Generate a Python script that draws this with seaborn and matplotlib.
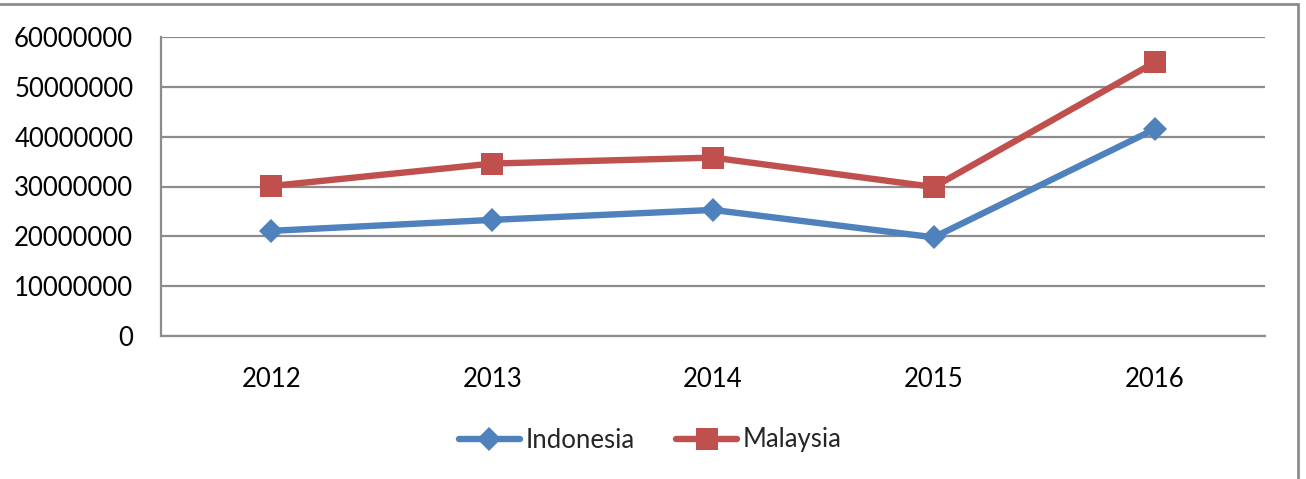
import numpy as np
import pandas as pd
import matplotlib
matplotlib.use("Agg")
import matplotlib.pyplot as plt
import seaborn as sns
from matplotlib.lines import Line2D

years = ["2012", "2013", "2014", "2015", "2016"]
indonesia = [21100000, 23300000, 25300000, 19800000, 41500000]
malaysia = [30100000, 34600000, 35800000, 29900000, 54900000]
y_ticks = [0, 10000000, 20000000, 30000000, 40000000, 50000000, 60000000]

sns.set_style("white")
plt.rcParams["font.family"] = ["Lato", "DejaVu Sans"]

df = pd.DataFrame({
    "year": years * 2,
    "value": indonesia + malaysia,
    "country": ["Indonesia"] * len(years) + ["Malaysia"] * len(years),
})

fig = plt.figure(figsize=(13.06, 4.79), dpi=100)
ax = fig.add_axes([161 / 1306, 1 - 336 / 479, (1265 - 161) / 1306, (336 - 37) / 479])

palette = {"Indonesia": "#4F81BD", "Malaysia": "#C0504D"}
markers = {"Indonesia": "D", "Malaysia": "s"}
sizes = {"Indonesia": 12.5, "Malaysia": 16.5}
for name in ["Indonesia", "Malaysia"]:
    sub = df[df["country"] == name]
    sns.lineplot(data=sub, x="year", y="value", ax=ax, color=palette[name],
                 marker=markers[name], markersize=sizes[name], markeredgewidth=0,
                 linewidth=4.6, label=name, sort=False, zorder=3)

ax.set_xlim(-0.5, len(years) - 0.5)
ax.set_ylim(0, 60000000)
ax.set_yticks(y_ticks)
ax.set_yticklabels([str(v) for v in y_ticks])
ax.set_xlabel("")
ax.set_ylabel("")
ax.grid(axis="y", color="#8c8c8c", linewidth=1.6)
ax.grid(axis="x", visible=False)
ax.set_axisbelow(True)
for s in ["top", "right"]:
    ax.spines[s].set_visible(False)
for s in ["left", "bottom"]:
    ax.spines[s].set_color("#8c8c8c")
    ax.spines[s].set_linewidth(1.6)
ax.tick_params(axis="both", length=0, labelsize=18.5, colors="#000000")
ax.tick_params(axis="y", pad=20)
ax.tick_params(axis="x", pad=22)

leg = ax.legend(loc="center", bbox_to_anchor=(650 / 1306, 1 - 440 / 479),
                bbox_transform=fig.transFigure, ncol=2, frameon=False,
                fontsize=18.5, handlelength=2.4, handletextpad=0.2, columnspacing=1.6)

# outer chart border (top and right visible)
fig.add_artist(Line2D([0, 1298 / 1306], [1 - 4 / 479, 1 - 4 / 479], transform=fig.transFigure,
                      color="#8c8c8c", linewidth=2))
fig.add_artist(Line2D([1298 / 1306, 1298 / 1306], [0, 1 - 4 / 479], transform=fig.transFigure,
                      color="#8c8c8c", linewidth=2))

fig.savefig("out.png", dpi=100, facecolor="white")
